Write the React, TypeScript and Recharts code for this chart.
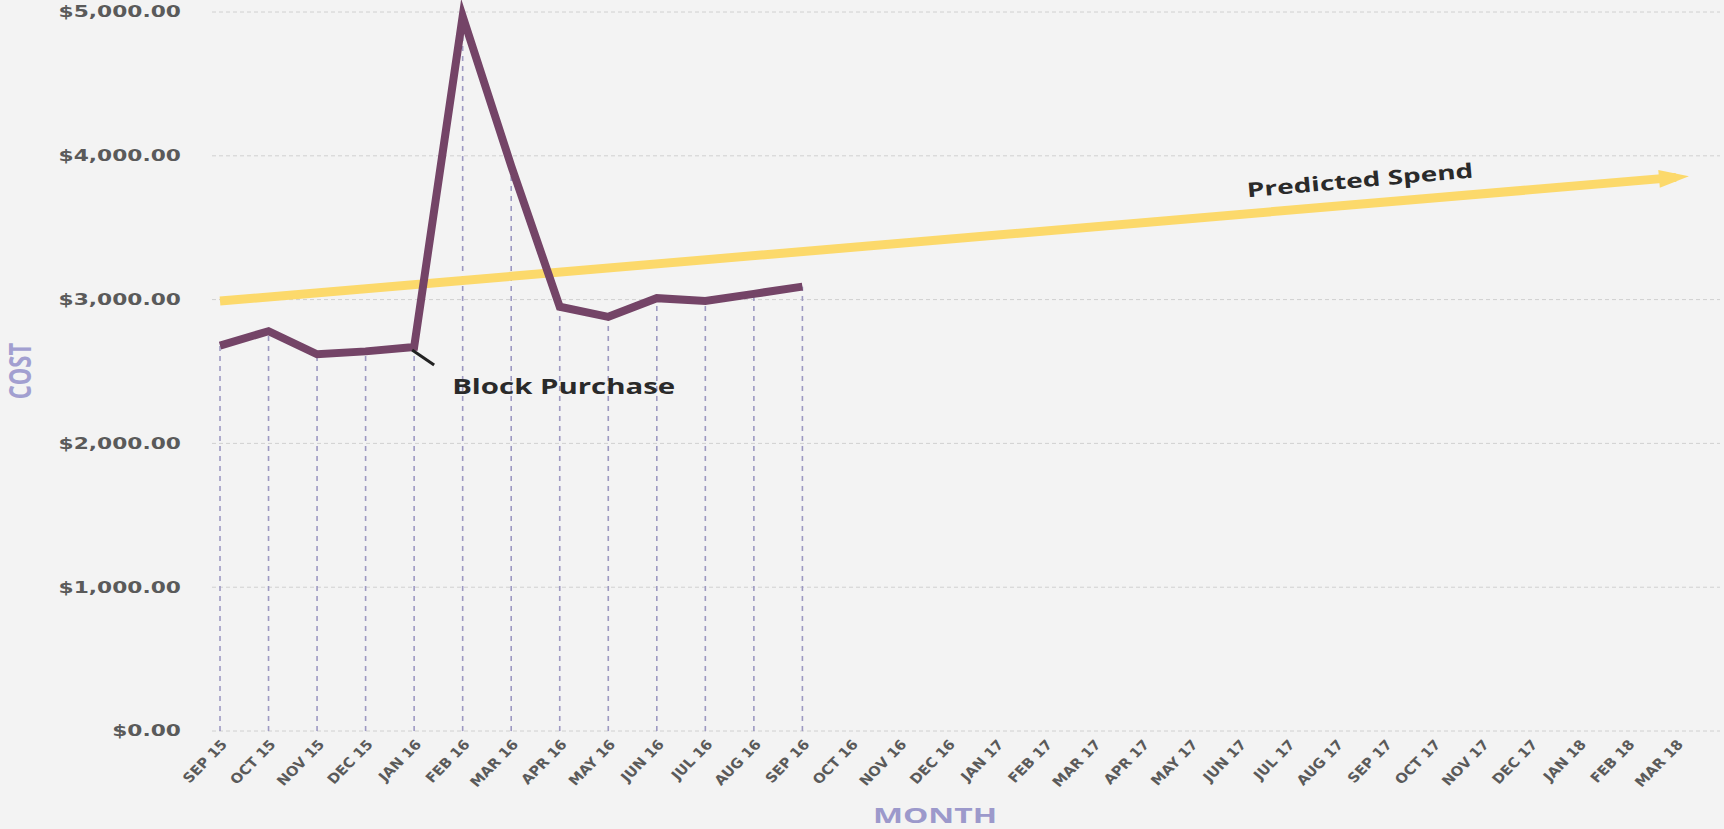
import { ComposedChart, Line, XAxis, YAxis, CartesianGrid, ErrorBar } from 'recharts'

const months = [
  'SEP 15', 'OCT 15', 'NOV 15', 'DEC 15', 'JAN 16', 'FEB 16', 'MAR 16', 'APR 16', 'MAY 16',
  'JUN 16', 'JUL 16', 'AUG 16', 'SEP 16', 'OCT 16', 'NOV 16', 'DEC 16', 'JAN 17', 'FEB 17',
  'MAR 17', 'APR 17', 'MAY 17', 'JUN 17', 'JUL 17', 'AUG 17', 'SEP 17', 'OCT 17', 'NOV 17',
  'DEC 17', 'JAN 18', 'FEB 18', 'MAR 18',
]
// monthly cost, SEP 15 .. SEP 16
const actualCost = [2680, 2780, 2620, 2640, 2670, 4970, 3930, 2950, 2880, 3010, 2990, 3040, 3090]
// predicted spend: start and end of the arrow
const predictedSpend = [
  { month: 'SEP 15', value: 2990 },
  { month: 'MAR 18', value: 3850 },
]
const costTicks = [0, 1000, 2000, 3000, 4000, 5000]
const blockPurchaseMonth = 'JAN 16'

const data = months.map((m, i) => ({
  month: m,
  actual: actualCost[i] ?? null,
  predicted: predictedSpend.find((p) => p.month === m)?.value ?? null,
}))

const fmt = (v: number) =>
  '$' + v.toLocaleString('en-US', { minimumFractionDigits: 2, maximumFractionDigits: 2 })

function YTick({ x, y, payload }: any) {
  return (
    <text
      transform={`translate(${x},${y}) scale(1.45,1)`}
      textAnchor="end"
      dy="0.36em"
      fontFamily="DejaVu Sans"
      fontWeight={700}
      fontSize={15}
      fill="#5a5a5a"
    >
      {fmt(payload.value)}
    </text>
  )
}

function XTick({ x, y, payload }: any) {
  return (
    <text
      transform={`translate(${x + 8},${y + 12}) scale(1.1,1) rotate(-48)`}
      textAnchor="end"
      fontFamily="DejaVu Sans"
      fontWeight={700}
      fontSize={13.5}
      fill="#5a5a5a"
    >
      {payload.value}
    </text>
  )
}

function ActualDot(props: any) {
  const { cx, cy, payload, index } = props
  if (payload.month !== blockPurchaseMonth || cy == null) return <g key={index} />
  return (
    <g key={index}>
      <line x1={cx - 2} y1={cy + 3} x2={cx + 20} y2={cy + 18} stroke="#222" strokeWidth={3} />
      <text
        transform={`translate(${cx + 38},${cy + 40}) scale(1.4,1)`}
        dy="0.35em"
        fontFamily="Open Sans"
        fontWeight={700}
        fontSize={21}
        fill="#2a2a2a"
      >
        Block Purchase
      </text>
    </g>
  )
}

function ArrowDot(props: any) {
  const { cx, cy, payload, index } = props
  if (payload.month !== 'MAR 18' || cy == null) return <g key={index} />
  return (
    <g key={index}>
      <polygon
        points="-17,-9 13,0 -17,9"
        fill="#fcd96b"
        transform={`translate(${cx},${cy}) rotate(-5)`}
      />
      <text
        transform={`translate(${cx - 316},${cy + 3}) rotate(-5) scale(1.4,1)`}
        textAnchor="middle"
        dy="0.35em"
        fontFamily="Open Sans"
        fontWeight={700}
        fontSize={20}
        fill="#2a2a2a"
      >
        Predicted Spend
      </text>
    </g>
  )
}

function CostLabel() {
  return (
    <text
      transform="translate(21,371) rotate(-90) scale(1,1.35)"
      textAnchor="middle"
      dy="0.35em"
      fontFamily="Open Sans"
      fontWeight={700}
      fontSize={22}
      fill="#a29fd0"
    >
      COST
    </text>
  )
}

function MonthLabel() {
  return (
    <text
      transform="translate(935,815) scale(1.45,1)"
      textAnchor="middle"
      dy="0.35em"
      fontFamily="Open Sans"
      fontWeight={700}
      fontSize={22}
      fill="#9c99cb"
    >
      MONTH
    </text>
  )
}

export default function App() {
  return (
    <div style={{ position: 'absolute', left: 0, top: 0, width: 1724, height: 829, background: '#f3f3f3' }}>
      <ComposedChart width={1724} height={829} data={data} margin={{ top: 12, right: 4, bottom: 0, left: 0 }}>
        <CartesianGrid vertical={false} stroke="#d0d0d0" strokeDasharray="4 3" />
        <XAxis
          dataKey="month"
          interval={0}
          height={98}
          axisLine={false}
          tickLine={false}
          tickSize={0}
          padding={{ left: 8, right: 44 }}
          tick={<XTick />}
          label={<MonthLabel />}
        />
        <YAxis
          width={212}
          domain={[0, 5000]}
          ticks={costTicks}
          axisLine={false}
          tickLine={false}
          tickSize={0}
          tickMargin={31}
          tick={<YTick />}
          label={<CostLabel />}
        />
        <Line dataKey="actual" stroke="none" dot={false} activeDot={false} isAnimationActive={false}>
          <ErrorBar
            dataKey={(d: any) => (d.actual == null ? null : [d.actual, 0])}
            direction="y"
            width={0}
            stroke="#9d99c2"
            strokeWidth={1.6}
            strokeDasharray="5 5"
          />
        </Line>
        <Line
          dataKey="predicted"
          type="linear"
          stroke="#fcd96b"
          strokeWidth={9}
          connectNulls
          dot={<ArrowDot />}
          activeDot={false}
          isAnimationActive={false}
        />
        <Line
          dataKey="actual"
          type="linear"
          stroke="#744467"
          strokeWidth={8}
          strokeMiterlimit={10}
          dot={<ActualDot />}
          activeDot={false}
          isAnimationActive={false}
        />
      </ComposedChart>
    </div>
  )
}
